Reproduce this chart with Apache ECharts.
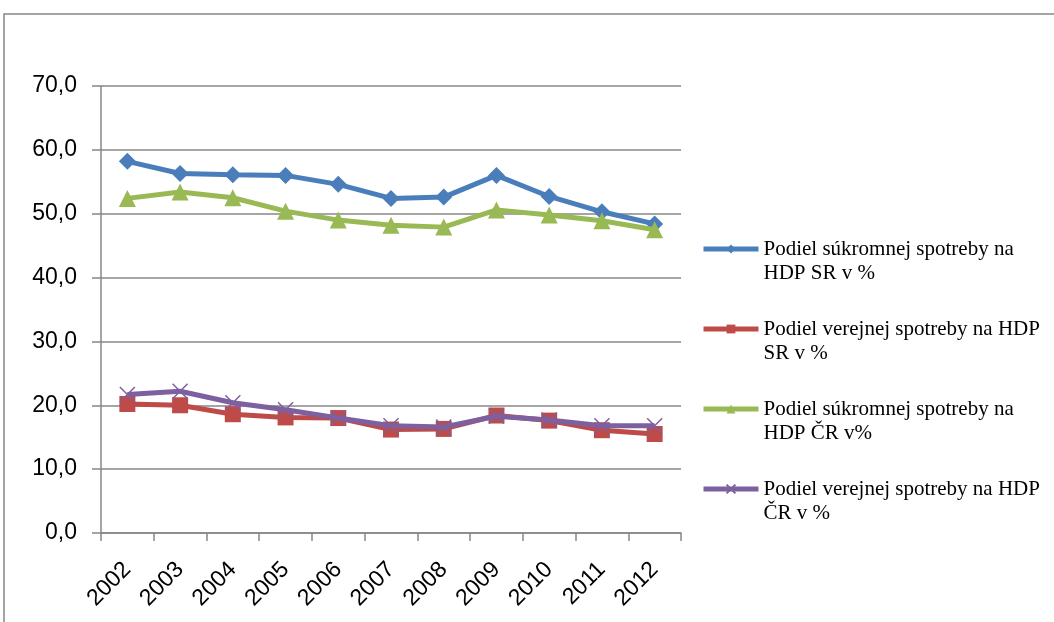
<!DOCTYPE html>
<html lang="sk">
<head>
    <meta charset="UTF-8">
    <title>Podiel spotreby na HDP</title>
    <script src="https://cdn.jsdelivr.net/npm/echarts@6/dist/echarts.min.js"></script>
    <style>
        html, body { margin: 0; padding: 0; background: #fff; }
        #main { width: 1054px; height: 622px; }
    </style>
</head>
<body>
<div id="main"></div>
<script>
    // roky na osi x
    var roky = ['2002', '2003', '2004', '2005', '2006', '2007', '2008', '2009', '2010', '2011', '2012'];

    // hodnoty odčítané z grafu (% HDP)
    var sukromnaSR = [58.2, 56.3, 56.1, 56.0, 54.6, 52.4, 52.6, 56.0, 52.7, 50.3, 48.4];
    var verejnaSR  = [20.2, 20.0, 18.6, 18.1, 18.0, 16.2, 16.3, 18.4, 17.6, 16.1, 15.5];
    var sukromnaCR = [52.4, 53.4, 52.5, 50.4, 49.0, 48.2, 47.9, 50.6, 49.8, 48.9, 47.5];
    var verejnaCR  = [21.7, 22.2, 20.4, 19.3, 18.0, 16.8, 16.6, 18.3, 17.7, 16.8, 16.8];

    // popisky legendy (zalomené na dva riadky ako v origináli)
    var nazvy = [
        'Podiel súkromnej spotreby na\nHDP SR v %',
        'Podiel verejnej spotreby na HDP\nSR v %',
        'Podiel súkromnej spotreby na\nHDP ČR v%',
        'Podiel verejnej spotreby na HDP\nČR v %'
    ];

    var farby = ['#4a7ebb', '#be4b48', '#98b954', '#7d60a0'];
    var siva = '#878787';
    var pismo = '"Liberation Sans", Arial, sans-serif';

    function seria(i, data, symbol, size) {
        return {
            name: nazvy[i],
            type: 'line',
            data: data,
            symbol: symbol,
            symbolSize: size,
            showAllSymbol: true,
            lineStyle: { width: 5, color: farby[i] },
            itemStyle: { color: farby[i] },
            z: 2 + i
        };
    }

    var krizik = 'path://M0,0 L10,10 M10,0 L0,10';

    var myChart = echarts.init(document.getElementById('main'));
    var option = {
        animation: false,
        backgroundColor: '#fff',
        graphic: [{
            type: 'rect',
            shape: { x: 4, y: 14, width: 1200, height: 800 },
            style: { fill: 'none', stroke: siva, lineWidth: 1.5 },
            silent: true
        }],
        grid: { left: 101, right: 373, top: 86, bottom: 89 },
        xAxis: {
            type: 'category',
            data: roky,
            boundaryGap: true,
            axisLine: { lineStyle: { color: siva, width: 1.5 } },
            axisTick: { show: true, length: 8, lineStyle: { color: siva, width: 1.5 } },
            axisLabel: {
                rotate: 45,
                margin: 33,
                color: '#000',
                fontSize: 23,
                fontFamily: pismo,
                interval: 0
            },
            splitLine: { show: false }
        },
        yAxis: {
            type: 'value',
            min: 0,
            max: 70,
            interval: 10,
            axisLine: { show: true, lineStyle: { color: siva, width: 1.5 } },
            axisTick: { show: true, length: 9, lineStyle: { color: siva, width: 1.5 } },
            axisLabel: {
                margin: 24,
                color: '#000',
                fontSize: 23,
                fontFamily: pismo,
                formatter: function (v) { return v.toFixed(1).replace('.', ','); }
            },
            splitLine: { lineStyle: { color: siva, width: 1.5 } }
        },
        legend: {
            orient: 'vertical',
            left: 701,
            top: 213,
            padding: 0,
            itemGap: 8,
            itemWidth: 55,
            itemHeight: 11,
            data: nazvy,
            lineStyle: { width: 5 },
            // prázdny prvý riadok posunie text tak, aby prvý riadok bol pri ikone
            formatter: function (n) { return '\n' + n; },
            textStyle: {
                color: '#000',
                fontSize: 21,
                fontFamily: '"Liberation Serif", "Times New Roman", serif',
                lineHeight: 24
            }
        },
        series: [
            seria(0, sukromnaSR, 'diamond', 17),
            seria(1, verejnaSR, 'rect', 16),
            seria(2, sukromnaCR, 'triangle', 17),
            {
                name: nazvy[3],
                type: 'line',
                data: verejnaCR,
                symbol: krizik,
                symbolSize: 15,
                lineStyle: { width: 5, color: farby[3] },
                itemStyle: { color: 'none', borderColor: farby[3], borderWidth: 1.5 },
                z: 5
            }
        ]
    };
    myChart.setOption(option);
</script>
</body>
</html>
